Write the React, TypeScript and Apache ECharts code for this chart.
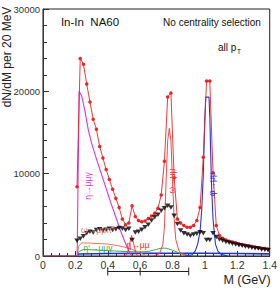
import React, { useEffect, useRef } from "react";
import * as echarts from "echarts";

// 20 MeV mass bins (GeV)
const massBins = [
  0.21, 0.23, 0.25, 0.27, 0.29, 0.31, 0.33, 0.35, 0.37, 0.39,
  0.41, 0.43, 0.45, 0.47, 0.49, 0.51, 0.53, 0.55, 0.57, 0.59,
  0.61, 0.63, 0.65, 0.67, 0.69, 0.71, 0.73, 0.75, 0.77, 0.79,
  0.81, 0.83, 0.85, 0.87, 0.89, 0.91, 0.93, 0.95, 0.97, 0.99,
  1.01, 1.03, 1.05, 1.07, 1.09, 1.11, 1.13, 1.15, 1.17, 1.19,
  1.21, 1.23, 1.25, 1.27, 1.29, 1.31, 1.33, 1.35, 1.37, 1.39,
];
// measured data (red circles)
const dataCounts = [
  8400, 24000, 23300, 20900, 18700, 16600, 15400, 13300, 11900, 10500,
  9300, 8100, 7000, 5900, 4500, 3800, 4000, 6100, 4800, 4300,
  4150, 4250, 4550, 4850, 5200, 5800, 7400, 11500, 19300, 19800,
  9500, 4500, 4000, 3700, 3500, 3500, 3700, 4300, 5900, 12000,
  21250, 21250, 10100, 3700, 2500, 2150, 1950, 1800, 1700, 1600,
  1500, 1400, 1300, 1250, 1150, 1100, 1000, 950, 900, 850,
];
// excess (black triangles)
const excessCounts = [
  1850, 2100, 2400, 2750, 2950, 2850, 3150, 3250, 3100, 3200,
  3300, 3150, 3250, 3400, 3350, 3150, 3300, 1950, 2850, 2950,
  3200, 3500, 3800, 4300, 4700, 5000, 5500, 5800, 6100, 5900,
  4900, 3900, 3100, 2750, 2600, 2450, 2600, 2700, 2870, 2750,
  1950, 1950, 2750, 2300, 2000, 1850, 1700, 1600, 1500, 1400,
  1300, 1250, 1150, 1100, 1000, 950, 900, 800, 750, 700,
];

const thresholdMass = [0, 0.211];
const thresholdVals = [0, 0];

const etaDalitzMass = [0.211, 0.223, 0.24, 0.26, 0.28, 0.30, 0.33, 0.36, 0.39, 0.42, 0.45, 0.48, 0.51, 0.54, 0.55];
const etaDalitzVals = [0, 20000, 19400, 17500, 15300, 13700, 11800, 10000, 8200, 6400, 4700, 3000, 1500, 200, 0];

const omegaDalitzMass = [0.211, 0.22, 0.24, 0.30, 0.40, 0.45, 0.50, 0.55, 0.60, 0.63, 0.65];
const omegaDalitzVals = [0, 1200, 1600, 1550, 1450, 1300, 1100, 800, 400, 100, 0];

const etaPrimeMass = [0.211, 0.22, 0.25, 0.30, 0.40, 0.50, 0.60, 0.65, 0.70, 0.73, 0.76, 0.80, 0.85, 0.90, 0.95];
const etaPrimeVals = [0, 500, 800, 750, 650, 550, 500, 550, 800, 950, 950, 700, 300, 80, 0];

const etaMuMuMass = [0.50, 0.52, 0.535, 0.547, 0.56, 0.575, 0.59];
const etaMuMuVals = [0, 200, 1500, 2500, 1500, 200, 0];

const omegaMuMuMass = [0.68, 0.72, 0.74, 0.75, 0.76, 0.77, 0.78, 0.79, 0.80, 0.81, 0.82, 0.84, 0.86, 0.90];
const omegaMuMuVals = [0, 300, 1400, 3500, 9000, 14000, 15500, 14000, 9000, 4500, 2000, 600, 150, 0];

const phiMuMuMass = [0.88, 0.92, 0.94, 0.955, 0.97, 0.98, 0.99, 1.0, 1.005, 1.025, 1.03, 1.04, 1.05, 1.065, 1.08, 1.10, 1.14];
const phiMuMuVals = [0, 150, 600, 1450, 3000, 5500, 10000, 17000, 19300, 19300, 17000, 9000, 4500, 1450, 600, 200, 0];

const baseMass = [0.211, 0.22, 0.4, 0.6, 0.8, 1.0, 1.2, 1.4];
const baseVals = [0, 250, 300, 320, 330, 330, 300, 260];

// mass window marker below axis
const windowTicks = [0.4, 0.6, 0.9];

const xTicks = { min: 0, max: 1.4, interval: 0.2 };
const yTicks = { min: 0, max: 30000, interval: 10000 };

const FONT = "'Liberation Sans', Arial, Helvetica, sans-serif";

const zip = (xs: number[], ys: number[]) => xs.map((x, i) => [x, ys[i]]);

export default function App() {
  const ref = useRef<HTMLDivElement>(null);
  useEffect(() => {
    if (!ref.current) return;
    const chart = echarts.init(ref.current, undefined, { renderer: "svg" });
    const line = (name: string, xs: number[], ys: number[], color: string, width = 1, z = 2) => ({
      name,
      type: "line",
      data: zip(xs, ys),
      showSymbol: false,
      symbol: "none",
      lineStyle: { color, width },
      itemStyle: { color },
      z,
      silent: true,
    });
    chart.setOption({
      animation: false,
      textStyle: { fontFamily: FONT },
      grid: {
        left: 43,
        top: 9,
        width: 233,
        height: 247,
        show: true,
        borderColor: "#222",
        borderWidth: 1,
        backgroundColor: "transparent",
      },
      xAxis: {
        type: "value",
        min: xTicks.min,
        max: xTicks.max,
        interval: xTicks.interval,
        axisLine: { show: true, onZero: false, lineStyle: { color: "#333", width: 1 } },
        axisTick: { show: true, inside: true, length: 5, lineStyle: { color: "#333" } },
        minorTick: { show: true, splitNumber: 4, length: 3, lineStyle: { color: "#333" } },
        splitLine: { show: false },
        axisLabel: {
          color: "#333",
          fontSize: 10.5,
          margin: 3,
          fontFamily: FONT,
          formatter: (v: number) => String(+v.toFixed(1)),
        },
      },
      yAxis: {
        type: "value",
        min: yTicks.min,
        max: yTicks.max,
        interval: yTicks.interval,
        axisLine: { show: true, lineStyle: { color: "#333", width: 1 } },
        axisTick: { show: true, inside: true, length: 6, lineStyle: { color: "#333" } },
        minorTick: { show: true, splitNumber: 5, length: 4, lineStyle: { color: "#333" } },
        splitLine: { show: false },
        axisLabel: {
          color: "#333",
          fontSize: 9.5,
          margin: 3,
          fontFamily: FONT,
          showMaxLabel: true,
          formatter: (v: number) => String(Math.round(v)),
        },
      },
      series: [
        line("threshold", thresholdMass, thresholdVals, "#d0205a", 1.2),
        line("base", baseMass, baseVals, "#2233cc", 1.6),
        line("etaPrime", etaPrimeMass, etaPrimeVals, "#44aa44", 1),
        line("omegaDalitz", omegaDalitzMass, omegaDalitzVals, "#df7a68", 1),
        line("etaDalitz", etaDalitzMass, etaDalitzVals, "#dd33dd", 1.1),
        line("etaMuMu", etaMuMuMass, etaMuMuVals, "#ff2a2a", 0.9),
        line("omegaMuMu", omegaMuMuMass, omegaMuMuVals, "#ff3030", 0.9),
        line("phiMuMu", phiMuMuMass, phiMuMuVals, "#2a30dd", 1.1),
        {
          name: "data",
          type: "line",
          data: zip(massBins, dataCounts),
          symbol: "circle",
          symbolSize: 3.5,
          lineStyle: { color: "#ee2222", width: 0.9 },
          itemStyle: { color: "#ee2222" },
          z: 5,
          silent: true,
        },
        {
          name: "excess",
          type: "scatter",
          data: zip(massBins, excessCounts),
          symbol: "triangle",
          symbolRotate: 180,
          symbolSize: [5.5, 4.5],
          itemStyle: { color: "#000" },
          z: 6,
          silent: true,
        },
      ],
    });

    const px = (m: number) => chart.convertToPixel({ gridIndex: 0 }, [m, 0]) as number[];
    const barY = 271.5;
    const xs = windowTicks.map((m) => px(m)[0]);
    const txt = (text: string, x: number, y: number, color: string, fontSize: number, extra: any = {}) => ({
      type: "text",
      x,
      y,
      silent: true,
      z: 10,
      ...extra,
      style: {
        text,
        fill: color,
        fontSize,
        fontFamily: FONT,
        align: "center",
        verticalAlign: "middle",
        ...(extra.style || {}),
      },
    });
    const graphics: any[] = [
      {
        type: "line",
        silent: true,
        shape: { x1: xs[0], y1: barY, x2: xs[xs.length - 1], y2: barY },
        style: { stroke: "#222", lineWidth: 1 },
      },
      ...xs.map((x) => ({
        type: "line",
        silent: true,
        shape: { x1: x, y1: barY - 4, x2: x, y2: barY + 4 },
        style: { stroke: "#222", lineWidth: 1 },
      })),
      txt("dN/dM per 20 MeV", 7, 57, "#222", 12, { rotation: Math.PI / 2 }),
      txt("M (GeV)", 247, 280, "#222", 12.5),
      txt("In-In  NA60", 90, 22, "#111", 11.5),
      txt("No centrality selection", 212, 22.5, "#111", 10),
      txt("all p", 218, 47, "#111", 10, { style: { align: "left" } }),
      txt("T", 237, 51.5, "#111", 6.5, { style: { align: "left" } }),
      txt("η→μμγ", 88, 186, "#dd33dd", 8.5, { rotation: Math.PI / 2 }),
      txt("ω→μμ", 172, 181, "#ff3030", 8.5, { rotation: Math.PI / 2 }),
      txt("φ→μμ", 212, 184, "#2a30dd", 8.5, { rotation: Math.PI / 2 }),
      txt("ω→μμπ⁰", 98, 230, "#df7a68", 8.5),
      txt("η'→μμγ", 98, 247.5, "#44aa44", 8.5),
      txt("η→μμ", 138, 244.5, "#ff2a2a", 8.5),
    ];
    chart.setOption({ graphic: graphics });
    return () => chart.dispose();
  }, []);
  return (
    <div
      ref={ref}
      style={{ position: "fixed", left: 0, top: 0, width: 280, height: 288, background: "#fff" }}
    />
  );
}
